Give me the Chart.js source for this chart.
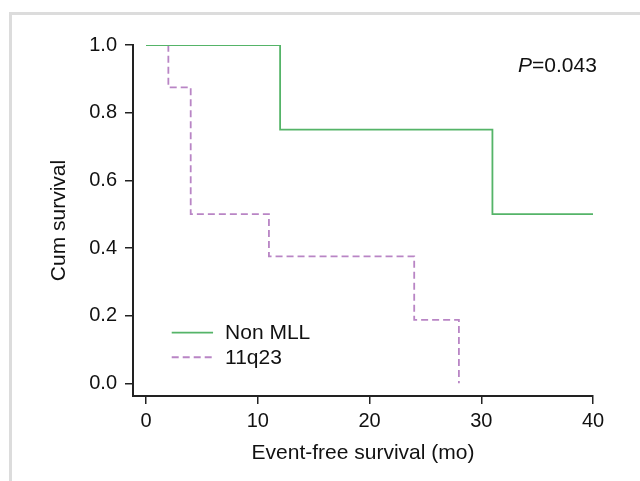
<!DOCTYPE html>
<html>
<head>
<meta charset="utf-8">
<script src="https://cdn.jsdelivr.net/npm/chart.js@4/dist/chart.umd.min.js"></script>
<style>
  html, body { margin: 0; padding: 0; background: #fff; overflow: hidden; }
  #wrap { position: relative; width: 640px; height: 481px; }
  #frame {
    position: absolute; left: 9px; top: 12px; width: 660px; height: 500px;
    border: 3px solid #dcdcdc; box-sizing: border-box;
  }
  #survChart { position: absolute; left: 0; top: 0; }
</style>
</head>
<body>
<div id="wrap">
  <div id="frame"></div>
  <canvas id="survChart" width="640" height="481"></canvas>
</div>
<script>
// === Data ===
const nonMllTimes = [0, 12, 31, 40];
const nonMllSurv = [1.0, 0.75, 0.5, 0.5];

const q23Times = [0, 2, 4, 11, 24, 28];
const q23Surv = [1.0, 0.875, 0.5, 0.375, 0.1875, 0.0];

const xTicks = [0, 10, 20, 30, 40];
const yTicks = [0, 0.2, 0.4, 0.6, 0.8, 1.0];

const seriesLabels = ["Non MLL", "11q23"];
const pValueText = "0.043";

// === Helpers ===
const FONT = "'Liberation Sans', Arial, Helvetica, sans-serif";
const AXIS_COLOR = "#222";

function toPoints(xs, ys) {
  return xs.map((x, i) => ({ x: x, y: ys[i] }));
}

// legend inside plot area + P value
const annotations = {
  id: "annotations",
  afterDatasetsDraw(chart) {
    const ctx = chart.ctx;
    const xs = chart.scales.x;
    const ys = chart.scales.y;
    ctx.save();

    // legend
    const lx0 = xs.getPixelForValue(2.3);
    const lx1 = xs.getPixelForValue(6.0);
    const rows = [ys.getPixelForValue(0.15), ys.getPixelForValue(0.077)];
    chart.data.datasets.forEach((ds, i) => {
      const y = rows[i];
      ctx.strokeStyle = ds.borderColor;
      ctx.lineWidth = ds.borderWidth;
      ctx.setLineDash(ds.borderDash || []);
      ctx.beginPath();
      ctx.moveTo(lx0, y);
      ctx.lineTo(lx1, y);
      ctx.stroke();
      ctx.setLineDash([]);
      ctx.fillStyle = "#111";
      ctx.font = "21px " + FONT;
      ctx.textAlign = "left";
      ctx.textBaseline = "middle";
      ctx.fillText(ds.label, lx1 + 12, y + 1);
    });

    // P value
    const px = 518;
    const py = 66;
    ctx.fillStyle = "#111";
    ctx.textBaseline = "middle";
    ctx.font = "italic 21px " + FONT;
    ctx.fillText("P", px, py);
    const w = ctx.measureText("P").width;
    ctx.font = "21px " + FONT;
    ctx.fillText("=" + pValueText, px + w, py);

    ctx.restore();
  },
};

const ctx = document.getElementById("survChart").getContext("2d");

new Chart(ctx, {
  type: "line",
  data: {
    datasets: [
      {
        label: seriesLabels[0],
        data: toPoints(nonMllTimes, nonMllSurv),
        borderColor: "#55b468",
        borderWidth: 1.8,
        stepped: true,
        pointRadius: 0,
        fill: false,
      },
      {
        label: seriesLabels[1],
        data: toPoints(q23Times, q23Surv),
        borderColor: "#b985c5",
        borderWidth: 1.8,
        borderDash: [7, 4],
        stepped: true,
        pointRadius: 0,
        fill: false,
      },
    ],
  },
  options: {
    responsive: false,
    animation: false,
    layout: { padding: { left: 0, right: 47, top: 45, bottom: 0 } },
    plugins: {
      legend: { display: false },
      tooltip: { enabled: false },
    },
    scales: {
      x: {
        type: "linear",
        min: -1.164,
        max: 40,
        afterFit: (scale) => { scale.height = 85; },
        afterBuildTicks: (scale) => {
          scale.ticks = xTicks.map((v) => ({ value: v }));
        },
        grid: {
          drawOnChartArea: false,
          drawTicks: true,
          tickLength: 8,
          color: AXIS_COLOR,
          lineWidth: 1.5,
        },
        border: { display: true, color: AXIS_COLOR, width: 2 },
        ticks: {
          color: "#111",
          padding: 5,
          font: { family: FONT, size: 20 },
          callback: (v) => String(v),
        },
        title: {
          display: true,
          text: "Event-free survival (mo)",
          color: "#111",
          font: { family: FONT, size: 21 },
          padding: { top: 0, bottom: 15 },
        },
      },
      y: {
        type: "linear",
        min: -0.0375,
        max: 1.0,
        afterFit: (scale) => { scale.width = 133; },
        afterBuildTicks: (scale) => {
          scale.ticks = yTicks.map((v) => ({ value: v }));
        },
        grid: {
          drawOnChartArea: false,
          drawTicks: true,
          tickLength: 8,
          color: AXIS_COLOR,
          lineWidth: 1.5,
        },
        border: { display: true, color: AXIS_COLOR, width: 2 },
        ticks: {
          color: "#111",
          padding: 8,
          font: { family: FONT, size: 20 },
          callback: (v) => Number(v).toFixed(1),
        },
        title: {
          display: true,
          text: "Cum survival",
          color: "#111",
          font: { family: FONT, size: 21 },
          padding: { top: 47, bottom: 0 },
        },
      },
    },
  },
  plugins: [annotations],
});
</script>
</body>
</html>
